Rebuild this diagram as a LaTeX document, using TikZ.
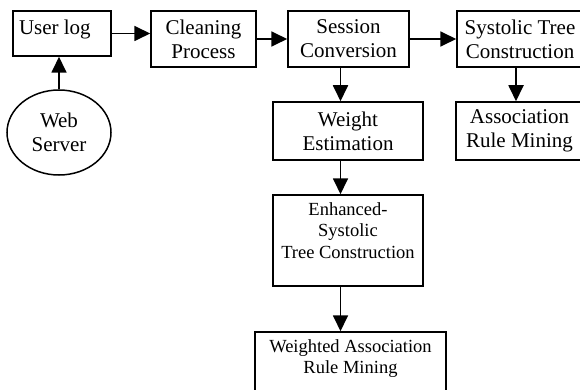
\documentclass[tikz,border=0pt]{standalone}
\usepackage{fontspec}
\setmainfont{Liberation Serif}
\usetikzlibrary{arrows.meta,shapes.geometric,calc}

\begin{document}
\begin{tikzpicture}[x=1pt,y=-1pt,
    box/.style={draw,line width=1.5pt,inner sep=0pt,align=center,font=\fontsize{21}{24}\selectfont},
    smalltext/.style={font=\fontsize{18.5}{21.5}\selectfont},
    link/.style={line width=1.8pt,-{Triangle[length=16pt,width=15pt]}}]
\useasboundingbox (0,0) rectangle (580,390);
\node[box,minimum width=98pt,minimum height=45pt] (userlog) at (62,33.5) {\parbox[c][45pt][t]{98pt}{\vspace*{6.5pt}\hspace*{6pt}\strut User log}}; % userlog
\node[box,ellipse,minimum width=104pt,minimum height=85pt] (webserver) at (59,132.5) {Web\\Server}; % webserver
\node[box,minimum width=105pt,minimum height=56pt] (clean) at (203.5,39) {Cleaning\\Process}; % clean
\node[box,minimum width=121pt,minimum height=56pt] (session) at (348.5,39) {Session\\Conversion}; % session
\node[box,minimum width=126pt,minimum height=56pt] (systolic) at (520,39) {Systolic Tree\\Construction}; % systolic
\node[box,minimum width=150pt,minimum height=58pt] (weight) at (348,131) {Weight\\Estimation}; % weight
\node[box,minimum width=127pt,minimum height=58pt] (assoc) at (519.5,131) {Association\\Rule Mining}; % assoc
\node[box,smalltext,minimum width=150pt,minimum height=91pt] (enhanced) at (348,240.5) {\parbox[c][91pt][t]{150pt}{\centering\vspace*{5pt}\strut Enhanced-\\Systolic\\Tree Construction\par}}; % enhanced
\node[box,smalltext,minimum width=191pt,minimum height=68pt] (weighted) at (350.5,366) {\parbox[c][68pt][t]{191pt}{\centering\vspace*{5pt}\strut Weighted Association\\Rule Mining\par}}; % weighted
\coordinate (stem) at ($(session.south)+(-8,0)$); % stem
\coordinate (twig) at ($(systolic.south)+(-4,0)$); % twig
\draw[link] (webserver.north) -- (webserver.north |- userlog.south); % web to log
\draw[link] (userlog.east) -- (userlog.east -| clean.west); % log to clean
\draw[link] (clean) -- (session); % clean to session
\draw[link] (session) -- (systolic); % session to systolic
\draw[link] (twig) -- (twig |- assoc.north); % systolic to assoc
\draw[link] (stem) -- (stem |- weight.north); % session to weight
\draw[link] (stem |- weight.south) -- (stem |- enhanced.north); % weight to enhanced
\draw[link] (stem |- enhanced.south) -- (stem |- weighted.north); % enhanced to weighted
\end{tikzpicture}
\end{document}
